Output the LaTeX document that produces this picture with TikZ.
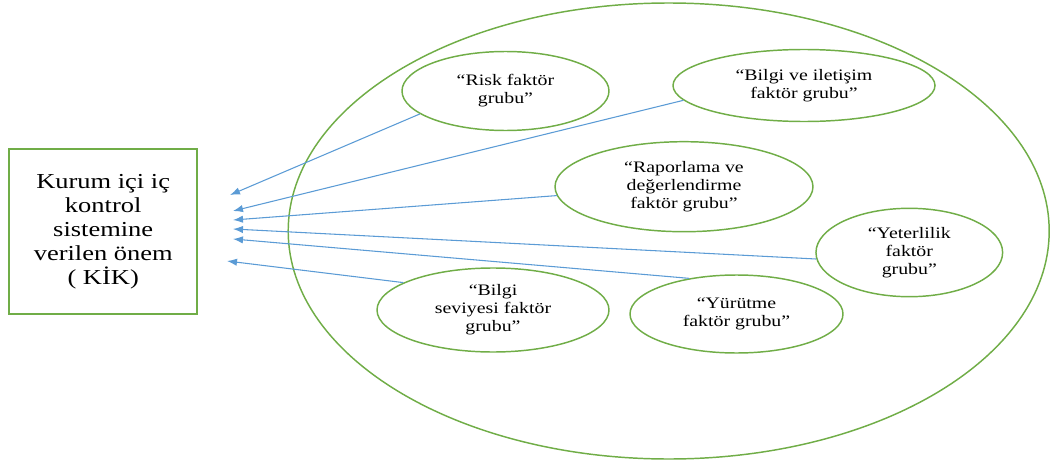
\documentclass[tikz,border=0pt]{standalone}
\usepackage{fontspec}
\setmainfont{Liberation Serif}[FakeStretch=1.24]
\usetikzlibrary{shapes.geometric,arrows.meta}
\definecolor{kgreen}{HTML}{70AD47}
\definecolor{kblue}{HTML}{5B9BD5}
\tikzset{
  factor/.style={ellipse, draw=kgreen, line width=1.1pt, inner sep=0pt,
    align=center, font=\fontsize{12}{13.5}\selectfont},
  mainbox/.style={rectangle, draw=kgreen, line width=1.6pt, inner sep=0pt,
    align=center, font=\fontsize{16}{18}\selectfont},
  link/.style={draw=kblue, line width=0.8pt, -{Latex[length=7.5pt,width=5.5pt]}}
}
\begin{document}
\begin{tikzpicture}[x=0.75pt,y=-0.75pt]
\useasboundingbox (0,0) rectangle (1050,464);
\node[ellipse, draw=kgreen, line width=1.1pt, minimum width=570.75pt, minimum height=342pt] (outer) at (668.7,231) {};
\node[mainbox, minimum width=140.8pt, minimum height=123.75pt] (kik) at (103.2,231.5)
  {Kurum içi iç\\kontrol\\sistemine\\verilen önem\\( KİK)};
\node[factor, minimum width=155.25pt, minimum height=59.25pt] (risk) at (505.5,91) {“Risk faktör\\grubu”};
\node[factor, minimum width=196.5pt, minimum height=54pt] (bvi) at (804,85.5) {“Bilgi ve iletişim\\faktör grubu”};
\node[factor, minimum width=193.5pt, minimum height=67.5pt] (rap) at (684,186.7) {“Raporlama ve\\değerlendirme\\faktör grubu”};
\node[factor, minimum width=140pt, minimum height=66.3pt] (yet) at (909.3,252.5) {“Yeterlilik\\faktör\\grubu”};
\node[factor, minimum width=159.75pt, minimum height=58.5pt] (yur) at (736.5,314) {“Yürütme\\faktör grubu”};
\node[factor, minimum width=174pt, minimum height=63pt] (bsv) at (493,310) {“Bilgi\\seviyesi faktör\\grubu”};
\coordinate (t1) at (230,195);
\coordinate (t2) at (233,211);
\coordinate (t3) at (233,220);
\coordinate (t4) at (233,229);
\coordinate (t5) at (233,239);
\coordinate (t6) at (227,261);
\draw[link] (risk.195) -- (t1);
\draw[link] (bvi.187) -- (t2);
\draw[link] (rap.184) -- (t3);
\draw[link] (yet.184) -- (t4);
\draw[link] (yur.143) -- (t5);
\draw[link] (bsv.163) -- (t6);
\end{tikzpicture}
\end{document}
